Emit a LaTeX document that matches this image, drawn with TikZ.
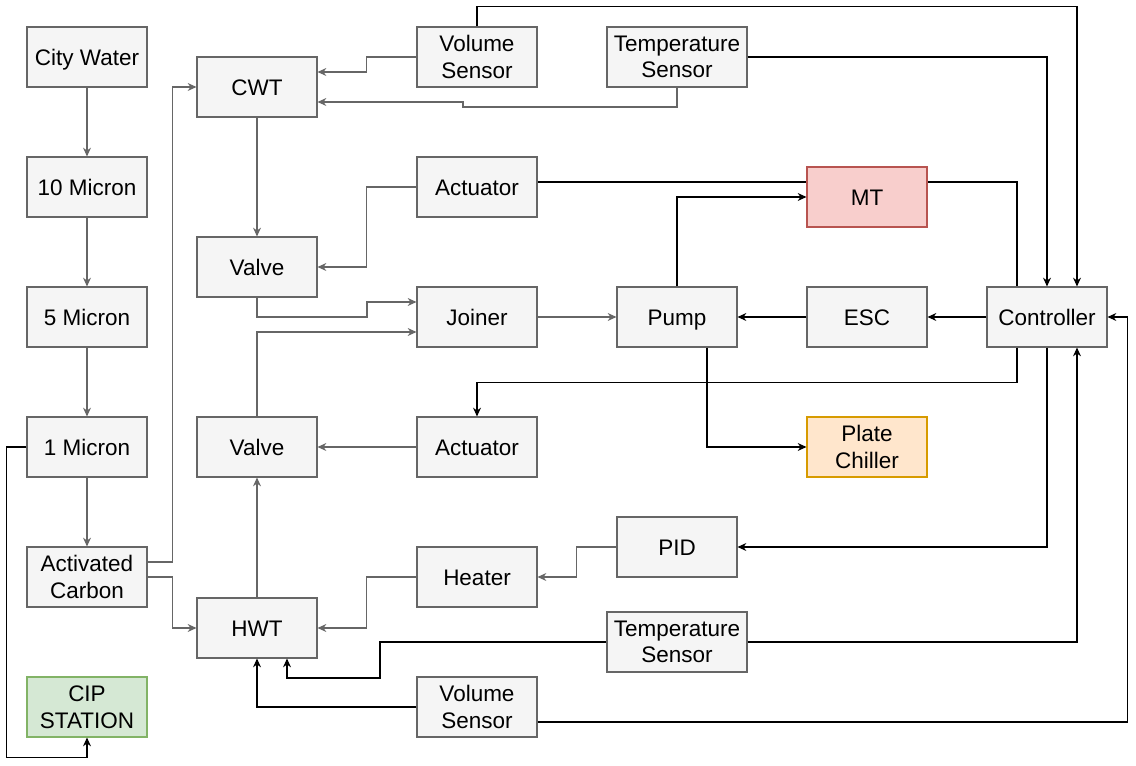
\documentclass[tikz,border=0pt]{standalone}
\usepackage{fontspec}
\setmainfont{Liberation Sans}
\usetikzlibrary{arrows.meta,calc,backgrounds}

\definecolor{boxfill}{HTML}{F5F5F5}
\definecolor{boxline}{HTML}{666666}
\definecolor{redfill}{HTML}{F8CECC}
\definecolor{redline}{HTML}{B85450}
\definecolor{orangefill}{HTML}{FFE6CC}
\definecolor{orangeline}{HTML}{D79B00}
\definecolor{greenfill}{HTML}{D5E8D4}
\definecolor{greenline}{HTML}{82B366}

\begin{document}
\begin{tikzpicture}[
		x=0.02cm,
		y=-0.02cm,
		every node/.style={
			shape=rectangle,
			draw=boxline,
			fill=boxfill,
			line width=0.6pt,
			minimum width=2.4cm,
			minimum height=1.2cm,
			inner sep=0pt,
			align=center,
			font=\fontsize{12.8}{15.2}\selectfont,
			text height=12.2pt,
			text depth=2.4pt,
		},
		twolines/.style={text height=, text depth=},
		wide/.style={minimum width=2.8cm, twolines},
		redbox/.style={draw=redline, fill=redfill},
		orangebox/.style={draw=orangeline, fill=orangefill, twolines},
		greenbox/.style={draw=greenline, fill=greenfill, twolines},
		flow/.style={
			draw=boxline,
			line width=0.6pt,
			-{Stealth[length=5pt,width=4.5pt]},
		},
		ctrl/.style={
			draw=black,
			line width=0.6pt,
			-{Stealth[length=5pt,width=4.5pt]},
		},
	]
		\useasboundingbox (0,0) rectangle (1136,766);

		% filter line
		\node (city) at (87,57) {City Water};
		\node (m10) at (87,187) {10 Micron};
		\node (m5) at (87,317) {5 Micron};
		\node (m1) at (87,447) {1 Micron};
		\node[twolines] (carbon) at (87,577) {Activated\\Carbon};
		\node[greenbox] (cip) at (87,707) {CIP\\STATION};

		% tanks and valves
		\node (cwt) at (257,87) {CWT};
		\node (valveA) at (257,267) {Valve};
		\node (valveB) at (257,447) {Valve};
		\node (hwt) at (257,628) {HWT};

		\node[twolines] (volA) at (477,57) {Volume\\Sensor};
		\node (actA) at (477,187) {Actuator};
		\node (joiner) at (477,317) {Joiner};
		\node (actB) at (477,447) {Actuator};
		\node (heater) at (477,577) {Heater};
		\node[twolines] (volB) at (477,707) {Volume\\Sensor};

		\node[wide] (tempA) at (677,57) {Temperature\\Sensor};
		\node (pump) at (677,317) {Pump};
		\node (pid) at (677,547) {PID};
		\node[wide] (tempB) at (677,642) {Temperature\\Sensor};

		\node[redbox] (mt) at (867,197) {MT};
		\node (esc) at (867,317) {ESC};
		\node[orangebox] (chiller) at (867,447) {Plate\\Chiller};
		\node (ctl) at (1047,317) {Controller};

		% water flow
		\draw[flow] (city) -- (m10);
		\draw[flow] (m10) -- (m5);
		\draw[flow] (m5) -- (m1);
		\draw[flow] (m1) -- (carbon);
		\draw[flow] ($(carbon.east)+(0,-15)$) -- ++(25,0) |- (cwt.west);
		\draw[flow] (carbon.east) -- ++(25,0) |- (hwt.west);
		\draw[flow] (volA.west) -- ++(-50,0) |- ($(cwt.east)+(0,-15)$);
		\draw[flow] (tempA.south) |- (463,107) |- ($(cwt.east)+(0,15)$);
		\draw[flow] (cwt) -- (valveA);
		\draw[flow] (actA.west) -- ++(-50,0) |- (valveA.east);
		\draw[flow] (valveA.south) |- (367,317) |- ($(joiner.west)+(0,-15)$);
		\draw[flow] (valveB.north) |- ($(joiner.west)+(0,15)$);
		\draw[flow] (hwt) -- (valveB);
		\draw[flow] (actB) -- (valveB);
		\draw[flow] (joiner) -- (pump);
		\draw[flow] (heater.west) -- ++(-50,0) |- (hwt.east);
		\draw[flow] (pid.west) -- ++(-40,0) |- (heater.east);

		% control lines
		\begin{pgfonlayer}{background}
			\draw[line width=0.6pt] ($(actA.east)+(0,-5)$) -| ($(ctl.north)+(-30,0)$);
		\end{pgfonlayer}
		\draw[ctrl] (volA.north) -- ++(0,-20) -| ($(ctl.north)+(30,0)$);
		\draw[ctrl] (tempA.east) -| (ctl.north);
		\draw[ctrl] (pump.north) |- (mt.west);
		\draw[ctrl] (esc) -- (pump);
		\draw[ctrl] (ctl) -- (esc);
		\draw[ctrl] ($(ctl.south)+(-30,0)$) -- ++(0,35) -| (actB.north);
		\draw[ctrl] ($(pump.south)+(30,0)$) |- (chiller.west);
		\draw[ctrl] (ctl.south) |- (pid.east);
		\draw[ctrl] (tempB.west) -| (380,678) -| ($(hwt.south)+(30,0)$);
		\draw[ctrl] (tempB.east) -| ($(ctl.south)+(30,0)$);
		\draw[ctrl] (volB.west) -| (hwt.south);
		\draw[ctrl] ($(volB.east)+(0,15)$) -- ++(590,0) |- (ctl.east);
		\draw[ctrl] (m1.west) -- ++(-20,0) |- ($(cip.south)+(0,20)$) -- (cip.south);
	\end{tikzpicture}
\end{document}
